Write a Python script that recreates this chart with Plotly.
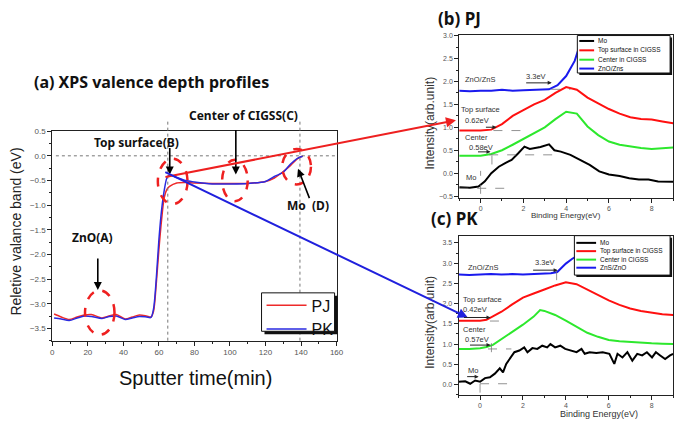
import plotly.graph_objects as go

W, H = 685, 423


def px(x):
    return x / W


def py(y):
    return 1 - y / H


# ---------------- data: panel (a) ----------------
sputter_time = [1, 5, 9.5, 14, 18, 22, 28, 32, 36, 41, 45, 49, 53, 55.5, 57, 58.5, 60, 61.5,
                63, 64.5, 66, 70, 75, 80, 90, 100, 110, 120, 125, 130, 134, 138, 141]
band_pj = [-3.21, -3.27, -3.32, -3.27, -3.23, -3.22, -3.29, -3.25, -3.22, -3.31, -3.27, -3.23,
           -3.25, -3.27, -3.15, -2.6, -1.9, -1.3, -0.85, -0.68, -0.62, -0.55, -0.54, -0.55,
           -0.56, -0.56, -0.56, -0.52, -0.45, -0.32, -0.2, -0.06, 0.0]
band_pk = [-3.29, -3.31, -3.34, -3.29, -3.25, -3.26, -3.30, -3.26, -3.25, -3.32, -3.29, -3.26,
           -3.27, -3.28, -3.1, -2.5, -1.7, -1.1, -0.7, -0.45, -0.39, -0.44, -0.5, -0.53,
           -0.57, -0.57, -0.56, -0.52, -0.42, -0.33, -0.17, -0.05, -0.01]

# ---------------- data: panel (b) PJ ----------------
pj_x = [-1, -0.5, 0, 0.5, 1, 1.5, 2, 2.5, 3, 3.5, 4, 4.5, 5, 5.5, 6, 6.5, 7, 7.5, 8, 8.5, 9]
pj_top = [0.93, 0.93, 0.93, 0.95, 1.07, 1.25, 1.38, 1.5, 1.6, 1.75, 1.88, 1.82, 1.65, 1.52,
          1.4, 1.3, 1.22, 1.18, 1.17, 1.13, 1.09]
pj_center = [0.38, 0.38, 0.38, 0.42, 0.5, 0.62, 0.75, 0.87, 1.0, 1.18, 1.34, 1.3, 1.02, 0.83,
             0.69, 0.62, 0.58, 0.55, 0.53, 0.55, 0.56]
pj_mo_x = [-1, -0.5, -0.1, 0.2, 0.5, 0.85, 1.15, 1.45, 1.75, 2.05, 2.3, 2.5, 2.8, 3.2, 3.45,
           3.75, 4.2, 4.65, 5.1, 5.55, 6.0, 6.5, 6.95, 7.4, 7.85, 8.3, 8.85, 9]
pj_mo = [-0.31, -0.32, -0.29, -0.18, 0.0, 0.14, 0.22, 0.29, 0.43, 0.58, 0.53, 0.54, 0.57, 0.63,
         0.5, 0.47, 0.4, 0.29, 0.18, 0.04, -0.03, -0.06, -0.11, -0.14, -0.14, -0.18, -0.18, -0.19]
pj_zno_x = [-1, -0.5, 0, 0.5, 1, 1.5, 2, 2.5, 3, 3.2, 3.6, 4.0, 4.4, 4.65, 4.85]
pj_zno = [1.8, 1.79, 1.8, 1.8, 1.82, 1.8, 1.81, 1.82, 1.82, 1.83, 1.92, 2.12, 2.45, 2.84, 3.1]

# ---------------- data: panel (c) PK ----------------
pk_x = [-1, -0.5, 0, 0.3, 0.6, 1, 1.5, 2, 2.5, 2.8, 3, 3.5, 4, 4.5, 5, 5.5, 6, 6.5, 7, 7.5,
        8, 8.5, 9]
pk_top = [1.58, 1.58, 1.58, 1.6, 1.68, 1.8, 1.98, 2.15, 2.25, 2.3, 2.35, 2.45, 2.53, 2.48,
          2.35, 2.2, 2.08, 1.97, 1.88, 1.82, 1.78, 1.74, 1.72]
pk_center = [0.88, 0.88, 0.9, 0.93, 0.98, 1.12, 1.3, 1.48, 1.68, 1.84, 1.82, 1.72, 1.58, 1.42,
             1.28, 1.18, 1.1, 1.07, 1.05, 1.04, 1.02, 1.01, 1.0]
pk_mo_x = [-1, -0.69, -0.46, -0.23, 0, 0.23, 0.46, 0.69, 0.92, 1.07, 1.22, 1.45, 1.6, 1.83,
           2.06, 2.21, 2.44, 2.67, 2.9, 3.13, 3.28, 3.5, 3.74, 3.97, 4.27, 4.5, 4.73, 4.88,
           5.11, 5.42, 5.72, 6.03, 6.26, 6.41, 6.64, 6.87, 7.1, 7.33, 7.56, 7.78, 8.02, 8.2,
           8.4, 8.63, 8.86, 9]
pk_mo = [0.07, 0.08, 0.02, 0.1, 0.07, 0.16, 0.18, 0.27, 0.4, 0.3, 0.51, 0.67, 0.8, 0.84,
         0.92, 0.8, 0.9, 0.88, 0.96, 0.92, 1.0, 0.92, 0.96, 0.88, 0.84, 0.8, 0.88, 0.76,
         0.8, 0.78, 0.8, 0.76, 0.51, 0.76, 0.67, 0.8, 0.59, 0.76, 0.72, 0.8, 0.67, 0.8,
         0.72, 0.63, 0.72, 0.76]
pk_zno_x = [-1, -0.5, 0, 0.5, 1, 1.5, 2, 2.5, 3, 3.3, 3.6, 3.8, 4.0, 4.3, 4.6]
pk_zno = [2.72, 2.71, 2.72, 2.73, 2.72, 2.73, 2.72, 2.73, 2.74, 2.75, 2.78, 2.88, 2.99, 3.11, 3.2]

RED_A, BLUE_A = "#ee2a2a", "#2a2ae0"
C_MO, C_TOP, C_CEN, C_ZNO = "#000000", "#ff1010", "#2de82d", "#1a1aee"

fig = go.Figure()

# panel (a)
fig.add_trace(go.Scatter(x=sputter_time, y=band_pj, name="PJ", mode="lines",
                         line=dict(color=RED_A, width=1.5, shape="spline", smoothing=0.8),
                         xaxis="x", yaxis="y"))
fig.add_trace(go.Scatter(x=sputter_time, y=band_pk, name="PK", mode="lines",
                         line=dict(color=BLUE_A, width=1.5, shape="spline", smoothing=0.8),
                         xaxis="x", yaxis="y"))

# panel (b)
for xs, ys, nm, col in [(pj_mo_x, pj_mo, "Mo", C_MO), (pj_x, pj_top, "Top surface in CIGSS", C_TOP),
                        (pj_x, pj_center, "Center in CIGSS", C_CEN), (pj_zno_x, pj_zno, "ZnO/Zns", C_ZNO)]:
    fig.add_trace(go.Scatter(x=xs, y=ys, name=nm, mode="lines", showlegend=False,
                             line=dict(color=col, width=2), xaxis="x2", yaxis="y2"))
# panel (c)
for xs, ys, nm, col in [(pk_mo_x, pk_mo, "Mo", C_MO), (pk_x, pk_top, "Top surface in CIGSS", C_TOP),
                        (pk_x, pk_center, "Center in CIGSS", C_CEN), (pk_zno_x, pk_zno, "ZnS/ZnO", C_ZNO)]:
    fig.add_trace(go.Scatter(x=xs, y=ys, name=nm, mode="lines", showlegend=False,
                             line=dict(color=col, width=2), xaxis="x3", yaxis="y3"))

tickfont = dict(family="Liberation Sans", size=8, color="#555")
smallfont = dict(family="Liberation Sans", size=7, color="#555")


def ax(domain, rng, dtick, minor, anchor, font, fmt=None):
    d = dict(domain=domain, range=rng, dtick=dtick, tick0=0, anchor=anchor, showgrid=False,
             zeroline=False, showline=True, mirror=True, linecolor="#222", linewidth=1,
             ticks="outside", ticklen=4, tickcolor="#222", tickfont=font,
             minor=dict(dtick=minor, tick0=0, ticks="outside", ticklen=2, tickcolor="#222",
                        showgrid=False))
    if fmt:
        d["tickformat"] = fmt
    return d


fig.update_layout(
    width=W, height=H, margin=dict(l=0, r=0, t=0, b=0),
    paper_bgcolor="white", plot_bgcolor="white",
    xaxis=ax([px(51), px(339)], [0, 160], 20, 10, "y", tickfont),
    yaxis=ax([py(341.5), py(129)], [-3.75, 0.5], 0.5, 0.25, "x", tickfont, ".1f"),
    xaxis2=ax([px(463.3), px(680)], [-1, 9], 2, 1, "y2", smallfont),
    yaxis2=ax([py(196.7), py(31.7)], [-0.54, 3.01], 0.5, 0.25, "x2", smallfont, ".1f"),
    xaxis3=ax([px(462.7), px(680)], [-1, 9], 2, 1, "y3", smallfont),
    yaxis3=ax([py(396.7), py(235)], [-0.26, 3.68], 0.5, 0.25, "x3", smallfont, ".1f"),
    legend=dict(x=px(263), y=py(288.5), xanchor="left", yanchor="top",
                font=dict(family="Liberation Sans", size=16, color="#111"),
                bgcolor="rgba(0,0,0,0)", borderwidth=0, itemwidth=40,
                tracegroupgap=0),
    showlegend=True,
)

shapes = []
# panel (a) reference dotted lines
shapes.append(dict(type="line", xref="x", yref="y", x0=2, x1=160, y0=0, y1=0,
                   line=dict(color="#777", width=1, dash="dot")))
for xv in (65, 139.4):
    shapes.append(dict(type="line", xref="x", yref="paper", x0=xv, x1=xv, y0=py(341.5), y1=py(118),
                       line=dict(color="#777", width=1, dash="dot")))
# dashed ellipses
for x0, x1, y0, y1 in [(18.4, 35, -3.63, -2.73), (59.4, 76.1, -0.98, -0.06),
                       (95.6, 110, -0.92, -0.08), (129.4, 145.6, -0.58, 0.14)]:
    shapes.append(dict(type="circle", xref="x", yref="y", x0=x0, x1=x1, y0=y0, y1=y1,
                       line=dict(color="#ee2020", width=2.5, dash="dash"), layer="above"))
# legend (a) box with shadow
shapes.append(dict(type="rect", xref="paper", yref="paper", x0=px(266), x1=px(340), y0=py(335),
                   y1=py(296), fillcolor="#111", line=dict(width=0), layer="above"))
shapes.append(dict(type="rect", xref="paper", yref="paper", x0=px(263), x1=px(337), y0=py(332),
                   y1=py(293), fillcolor="white", line=dict(color="#111", width=1), layer="above"))

# guide lines in (b)
gl = dict(color="#777", width=0.8, dash="dash")
for x0, x1, y0, y1 in [(-1, 1.46, -0.33, -0.33), (0, 0, -0.45, 0.05), (0.4, 3.4, 0.40, 0.40),
                       (0.53, 0.53, 0.19, 0.47), (0.6, 1.9, 0.93, 0.93), (3.3, 4.2, 1.83, 1.83)]:
    shapes.append(dict(type="line", xref="x2", yref="y2", x0=x0, x1=x1, y0=y0, y1=y1, line=gl))
for x0, x1, y0, y1 in [(0, 1.5, 0.02, 0.02), (0, 0, -0.2, 0.02), (0.37, 1.46, 0.88, 0.88),
                       (0.53, 0.53, 0.8, 1.05), (0.46, 1.22, 1.57, 1.57), (3.57, 3.57, 2.58, 2.82)]:
    shapes.append(dict(type="line", xref="x3", yref="y3", x0=x0, x1=x1, y0=y0, y1=y1, line=gl))

annotations = []


def text(x, y, s, size=8, bold=False, anchor="left", family="Liberation Sans", color="#222",
         angle=0):
    annotations.append(dict(xref="paper", yref="paper", x=px(x), y=py(y),
                            text=("<b>%s</b>" % s) if bold else s, showarrow=False,
                            xanchor=anchor, yanchor="middle", textangle=angle,
                            font=dict(family=family, size=size, color=color)))


def arrow(x, y, axp, ayp, color="#000", width=1.5, xref="paper", yref="paper", head=2, size=1):
    annotations.append(dict(xref=xref, yref=yref, x=x, y=y, ax=axp, ay=ayp, text="",
                            showarrow=True, arrowhead=head, arrowsize=size, arrowwidth=width,
                            arrowcolor=color, axref="pixel", ayref="pixel"))


# manual legends for (b) and (c)
def mini_legend(x0, y0, x1, y1, rows, names, lx0, lx1, tx):
    shapes.append(dict(type="rect", xref="paper", yref="paper", x0=px(x0 + 2), x1=px(x1 + 2),
                       y0=py(y1 + 2), y1=py(y0 + 2), fillcolor="#111", line=dict(width=0),
                       layer="above"))
    shapes.append(dict(type="rect", xref="paper", yref="paper", x0=px(x0), x1=px(x1),
                       y0=py(y1), y1=py(y0), fillcolor="white", line=dict(color="#111", width=1),
                       layer="above"))
    for ry, (nm, col) in zip(rows, names):
        shapes.append(dict(type="line", xref="paper", yref="paper", x0=px(lx0), x1=px(lx1),
                           y0=py(ry), y1=py(ry), line=dict(color=col, width=2), layer="above"))
        text(tx, ry, nm, size=6.5, color="#111")


mini_legend(583, 32, 677, 70, [37.5, 47, 56.5, 65.5],
            [("Mo", C_MO), ("Top surface in CIGSS", C_TOP), ("Center in CIGSS", C_CEN),
             ("ZnO/Zns", C_ZNO)], 585, 600, 601.5)
mini_legend(580, 235, 677, 275, [242.3, 250.7, 259.3, 267.5],
            [("Mo", C_MO), ("Top surface in CIGSS", C_TOP), ("Center in CIGSS", C_CEN),
             ("ZnS/ZnO", C_ZNO)], 582, 602, 604)

# titles
text(30, 79, "(a) XPS valence depth profiles", size=16, bold=True, family="Noto Sans", color="#111")
text(440, 15, "(b) PJ", size=17, bold=True, family="Noto Sans", color="#111")
text(433, 218, "(c) PK", size=17, bold=True, family="Noto Sans", color="#111")

# axis titles
text(196, 379, "Sputter time(min)", size=20, anchor="center", color="#111")
text(14, 231, "Reletive valance band (eV)", size=14, anchor="center", color="#222", angle=-90)
text(434, 121, "Intensity(arb.unit)", size=12, anchor="center", color="#333", angle=-90)
text(434, 323, "Intensity(arb.unit)", size=12, anchor="center", color="#333", angle=-90)
text(572, 215, "Binding Energy(eV)", size=8, anchor="center", color="#333")
text(605, 416, "Binding Energy(eV)", size=9, anchor="center", color="#333")

# panel (a) labels and arrows
text(136, 140, "Top surface(B)", size=12, bold=True, anchor="center", family="Noto Sans", color="#111")
text(245, 113, "Center of CIGSS(C)", size=12, bold=True, anchor="center", family="Noto Sans", color="#111")
text(310, 204, "Mo  (D)", size=12, bold=True, anchor="center", family="Noto Sans", color="#111")
text(92, 237, "ZnO(A)", size=12, bold=True, anchor="center", family="Noto Sans", color="#111")
arrow(66.1, -0.38, 0, -28, xref="x", yref="y", width=1.6)
arrow(103.3, -0.38, 0, -46, xref="x", yref="y", width=1.6)
arrow(138.3, -0.26, 12, 31, xref="x", yref="y", width=1.6)
arrow(25.6, -2.72, 0, -33, xref="x", yref="y", width=1.6)

# connecting arrows to (b) and (c)
arrow(px(460), py(118), -292, 57, color="#ee2020", width=2)
arrow(px(472), py(318), -304, -146, color="#2020dd", width=2)

# panel (b) labels
for x, y, s in [(467, 77, "ZnO/ZnS"), (529, 74, "3.3eV"), (463, 107, "Top surface"),
                (467, 118, "0.62eV"), (467, 135.5, "Center"), (471, 145.5, "0.58eV"), (468, 176, "Mo")]:
    text(x, y, s, size=7.5, color="#333")
# panel (c) labels
for x, y, s in [(470, 267, "ZnO/ZnS"), (538, 262, "3.3eV"), (465, 299.5, "Top surface"),
                (465, 310, "0.42eV"), (465, 330.5, "Center"), (467, 340, "0.57eV"), (470, 372, "Mo")]:
    text(x, y, s, size=7.5, color="#333")

for tx, ty, dx in [(557, 80, -27), (501, 125, -12), (495, 150, -14), (563, 270, -26),
                   (495, 318, -28), (495, 346, -22), (483, 378, -13)]:
    arrow(px(tx), py(ty), dx, 0, color="#222", width=1, head=2, size=0.8)

fig.update_layout(shapes=shapes, annotations=annotations)
fig.write_html("out.html", config={"displayModeBar": False},
               post_script="document.body.style.margin='0px';document.body.style.padding='0px';")
